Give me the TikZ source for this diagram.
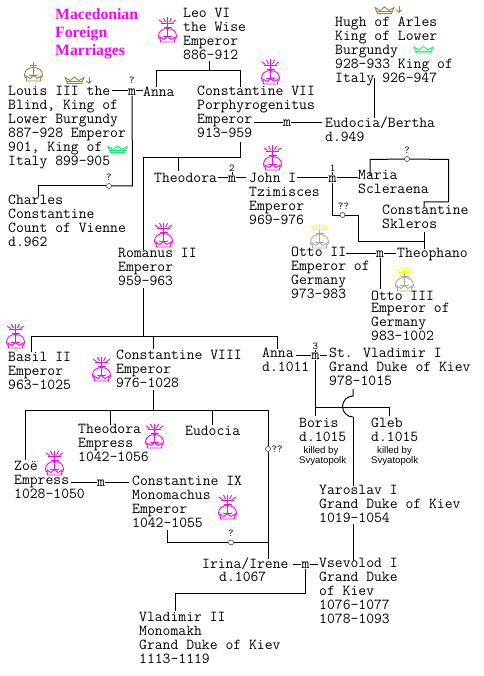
\documentclass[tikz,border=0pt]{standalone}
\usepackage{fontspec}
\usetikzlibrary{arrows.meta}
\newfontfamily\titlefont{Liberation Serif}
\newfontfamily\notefont{Liberation Sans}
\definecolor{imag}{RGB}{255,0,255}
\definecolor{tan1}{RGB}{160,128,64}
\definecolor{igreen}{RGB}{0,255,102}
\definecolor{igrey}{RGB}{176,168,144}
\definecolor{iyellow}{RGB}{255,255,0}
\tikzset{
 tx/.style={anchor=north west,yshift=10pt,inner sep=0pt,align=left,
   font={\ttfamily\fontsize{15.24}{14}\selectfont},
   execute at begin node={\rule{0pt}{10pt}}},
 txn/.style={tx,font={\ttfamily\fontsize{15.24}{12.6}\selectfont}},
 mm/.style={inner sep=0pt,font={\ttfamily\fontsize{15.24}{14}\selectfont}},
 sup/.style={inner sep=0pt,font={\ttfamily\fontsize{10.5}{11}\selectfont}},
 oo/.style={circle,draw,minimum size=5pt,inner sep=0pt},
 ttl/.style={anchor=base west,inner sep=0pt,text=imag,font={\titlefont\bfseries\fontsize{15.7}{17}\selectfont}},
 note/.style={anchor=base west,inner sep=0pt,font={\notefont\fontsize{9.6}{10}\selectfont}},
 ln/.style={line width=1pt,black},
 pics/orbbody/.style={code={
   \draw[line width=0.9pt,#1] (0.5,13) .. controls (0.5,3) and (18.5,3) .. (18.5,13)
      .. controls (18.5,15) and (17.5,16) .. (17,16);
   \draw[line width=0.9pt,#1] (0.5,13) .. controls (0.5,15) and (1.5,16) .. (2,16);
   \draw[line width=0.9pt,#1] (2,14) -- (2.5,19) -- (16.5,19) -- (17,14) -- (13,16.5) -- (9.5,13.5) -- (6,16.5) -- cycle;
   \draw[line width=0.9pt,#1] (5,13) .. controls (7,14) and (12,14) .. (14,13);
 }},
 pics/orbcrown/.style={code={
   \pic at (0,0) {orbbody={#1}};
   \draw[line width=0.9pt,#1] (9.5,0) -- (9.5,13);
   \draw[line width=0.9pt,#1] (6,3.5) -- (13,3.5);
 }},
 pics/impcrown/.style 2 args={code={
   \pic at (0,6) {orbbody={#1}};
   \draw[line width=0.9pt,#1] (9.5,3) -- (9.5,19);
   \draw[line width=0.9pt,#1] (5.5,10) -- (13.5,10);
   \draw[line width=0.9pt,#2] (3,6.5) -- (16,6.5);
   \draw[line width=0.9pt,#2] (9.5,0.5) -- (9.5,6.5);
   \draw[line width=0.9pt,#2] (5.5,1) -- (7.5,5) (13.5,1) -- (11.5,5)
       (1,3) -- (4.5,5.5) (18,3) -- (14.5,5.5);
 }},
 pics/smallcrown/.style={code={
   \draw[line width=0.9pt,#1] (0,0.5) -- (2.5,6.5) -- (16.5,6.5) -- (19,0.5) -- (14,3.5) -- (9.5,0) -- (5,3.5) -- cycle;
   \draw[line width=0.9pt,#1] (2,4.5) -- (17,4.5);
 }},
 pics/downarrow/.style={code={
   \draw[line width=0.9pt,#1,-{Straight Barb[length=2.5pt,width=5.5pt]}] (0,0) -- (0,7);
 }}
}
\begin{document}
\begin{tikzpicture}[x=1pt,y=-1pt]
\fill[white,use as bounding box] (0,0) rectangle (483,676);

% title
\node[ttl] (t1) at (55,20) {Macedonian};
\node[ttl] (t2) at (55,37.5) {Foreign};
\node[ttl] (t3) at (55,55.5) {Marriages};

% people
\node[tx] (leo) at (183,18) {Leo VI\\the Wise\\Emperor\\886-912};
\node[tx] (louis) at (8,96) {Louis III the\\Blind, King of\\Lower Burgundy\\887-928 Emperor\\901, King of\\Italy 899-905};
\node[tx] (anna1) at (143,96) {Anna};
\node[tx] (cvii) at (197,96) {Constantine VII\\Porphyrogenitus\\Emperor\\913-959};
\node[txn] (hugh) at (335,27) {Hugh of Arles\\King of Lower\\Burgundy\\928-933 King of\\Italy 926-947};
\node[tx] (eudb) at (325,127) {Eudocia/Bertha\\d.949};
\node[tx] (charles) at (8,205) {Charles\\Constantine\\Count of Vienne\\d.962};
\node[tx] (theod1) at (154,182) {Theodora};
\node[tx] (john) at (249,183) {John I\\Tzimisces\\Emperor\\969-976};
\node[tx] (maria) at (358,180) {Maria\\Scleraena};
\node[tx] (skl) at (382,215) {Constantine\\Skleros};
\node[tx] (rom) at (118,258) {Romanus II\\Emperor\\959-963};
\node[tx] (ottoii) at (291,257) {Otto II\\Emperor of\\Germany\\973-983};
\node[tx] (theoph) at (397,257) {Theophano};
\node[txn] (ottoiii) at (371,300.5) {Otto III\\Emperor of\\Germany\\983-1002};
\node[tx] (basil) at (8,361.5) {Basil II\\Emperor\\963-1025};
\node[tx] (cviii) at (116,359.5) {Constantine VIII\\Emperor\\976-1028};
\node[tx] (anna2) at (262,358) {Anna\\d.1011};
\node[tx] (vlad) at (329,358) {St. Vladimir I\\Grand Duke of Kiev\\978-1015};
\node[tx] (theod2) at (78,434) {Theodora\\Empress\\1042-1056};
\node[tx] (eud) at (185,435) {Eudocia};
\node[tx] (boris) at (299,427.5) {Boris\\d.1015};
\node[tx] (gleb) at (371,427.5) {Gleb\\d.1015};
\node[note] (bk) at (303.5,453) {killed by};
\node[note] (bs) at (299,463) {Svyatopolk};
\node[note] (gk) at (377,453) {killed by};
\node[note] (gs) at (371,463) {Svyatopolk};
\node[tx] (zoe) at (14,471) {Zoë\\Empress\\1028-1050};
\node[tx] (cix) at (132,486) {Constantine IX\\Monomachus\\Emperor\\1042-1055};
\node[tx] (yar) at (319,495) {Yaroslav I\\Grand Duke of Kiev\\1019-1054};
\node[tx] (irina) at (202,568) {Irina/Irene};
\node[tx] (irdied) at (219,581) {d.1067};
\node[tx] (vsev) at (319,568) {Vsevolod I\\Grand Duke\\of Kiev\\1076-1077\\1078-1093};
\node[tx] (vii) at (139,622) {Vladimir II\\Monomakh\\Grand Duke of Kiev\\1113-1119};

% marriage marks
\node[mm] (m1) at (132,92) {m};
\node[mm] (m2) at (287,123.5) {m};
\node[mm] (m3) at (232,179) {m};
\node[mm] (m4) at (332.5,179) {m};
\node[mm] (m5) at (380,254) {m};
\node[mm] (m6) at (101,483) {m};
\node[mm] (m7) at (315.5,356) {m};
\node[mm] (m8) at (305.5,565) {m};
\node[sup] (q1) at (132,80) {?};
\node[sup] (s2) at (232,168.5) {2};
\node[sup] (s1) at (332.5,168.5) {1};
\node[sup] (s3) at (315.5,346) {3};
\node[oo] (o1) at (109,186) {};
\node[sup] at (109,177) (q2) {?};
\node[oo] (o2) at (407,159) {};
\node[sup] at (407,150) (q3) {?};
\node[oo] (o3) at (342.5,215) {};
\node[sup] at (343.5,206.5) (q4) {??};
\node[oo] (o4) at (268,449) {};
\node[sup,anchor=west] at (271.5,449) (q5) {??};
\node[oo] (o5) at (231,542.5) {};
\node[sup] at (231,533) (q6) {?};

% junction points
\coordinate (a1) at (112,91);   \coordinate (a2) at (143,91);
\coordinate (b1) at (209.5,61); \coordinate (b2) at (209.5,70.5);
\coordinate (b3) at (156,70.5); \coordinate (b4) at (156,87);
\coordinate (b5) at (240,70.5); \coordinate (b6) at (240,87);
\coordinate (c1) at (254,122.5);\coordinate (c2) at (322,122.5);
\coordinate (d1) at (374.5,78); \coordinate (d2) at (374.5,118);
\coordinate (e1) at (132.5,186);\coordinate (e2) at (38.5,186); \coordinate (e3) at (38.5,197);
\coordinate (f1) at (240,142);  \coordinate (f2) at (240,157.5);
\coordinate (f3) at (143.5,157.5);\coordinate (f4) at (143.5,250);
\coordinate (f5) at (178,157.5);\coordinate (f6) at (178,171);
\coordinate (g1) at (218,178);  \coordinate (g2) at (246,178);
\coordinate (g3) at (297,178);  \coordinate (g4) at (358,178);
\coordinate (h1) at (332.5,215);\coordinate (h2) at (358,215);
\coordinate (h3) at (358,241);  \coordinate (h4) at (424,241);
\coordinate (h5) at (424,232);  \coordinate (h6) at (424,249);
\coordinate (i1) at (370,176);  \coordinate (i2) at (370,159.5);
\coordinate (i3) at (448.5,159.5);\coordinate (i4) at (448.5,202);
\coordinate (i5) at (424,202);  \coordinate (i6) at (424,207);
\coordinate (k1) at (346,253);  \coordinate (k2) at (396,253);
\coordinate (k3) at (380,289);
\coordinate (l1) at (143.5,288);\coordinate (l2) at (143.5,336);
\coordinate (l3) at (31.5,336); \coordinate (l4) at (31.5,352);
\coordinate (l5) at (153.5,336);\coordinate (l6) at (153.5,349);
\coordinate (l7) at (277.5,336);\coordinate (l8) at (277.5,349);
\coordinate (n1) at (153.5,390);\coordinate (n2) at (153.5,410.5);
\coordinate (n3) at (25.5,410.5);\coordinate (n4) at (25.5,460);
\coordinate (n5) at (110.5,410.5);\coordinate (n6) at (110.5,425);
\coordinate (n7) at (212.5,410.5);\coordinate (n8) at (212.5,425);
\coordinate (n9) at (268,410.5);\coordinate (n10) at (268,559);
\coordinate (p1) at (71,482);   \coordinate (p2) at (129,482);
\coordinate (r1) at (296,355);  \coordinate (r2) at (327,355);
\coordinate (r3) at (315.5,407);\coordinate (r4) at (315.5,416);
\coordinate (r5) at (389,407);  \coordinate (r6) at (389,416);
\coordinate (u1) at (353,389);  \coordinate (u2) at (353,396);
\coordinate (u3) at (353,417);  \coordinate (u4) at (353,486);
\coordinate (v1) at (167.5,530);\coordinate (v2) at (167.5,542.5);
\coordinate (v3) at (268,542.5);
\coordinate (w1) at (353,524);  \coordinate (w2) at (353,561);
\coordinate (x1) at (293,564);  \coordinate (x2) at (318,564);
\coordinate (x3) at (305.5,593);\coordinate (x4) at (175.5,593);
\coordinate (x5) at (175.5,611);

% connectors
\begin{scope}[ln]
\draw (a1) -- (a1 -| m1.west);
\draw (a2 -| m1.east) -- (a2);
\draw (b1) -- (b2);
\draw (b4) -- (b3) -- (b5) -- (b6);
\draw (c1) -- (c1 -| m2.west);
\draw (c2 -| m2.east) -- (c2);
\draw (d1) -- (d2);
\draw (m1.south) -- (e1) -- (o1.east);
\draw (o1.west) -- (e2) -- (e3);
\draw (f1) -- (f2) -- (f3) -- (f4);
\draw (f5) -- (f6);
\draw (g1) -- (g1 -| m3.west);
\draw (g2 -| m3.east) -- (g2);
\draw (g3) -- (g3 -| m4.west);
\draw (g4 -| m4.east) -- (g4);
\draw (s2.south) -- (m3.north);
\draw (s1.south) -- (m4.north);
\draw (s3.south) -- (m7.north);
\draw (m4.south) -- (h1) -- (o3.west);
\draw (o3.east) -- (h2) -- (h3) -- (h4);
\draw (h5) -- (h6);
\draw (i1) -- (i2) -- (o2.west);
\draw (o2.east) -- (i3) -- (i4) -- (i5) -- (i6);
\draw (k1) -- (k1 -| m5.west);
\draw (k2 -| m5.east) -- (k2);
\draw (m5.south) -- (k3);
\draw (l1) -- (l2);
\draw (l4) -- (l3) -- (l7) -- (l8);
\draw (l5) -- (l6);
\draw (n1) -- (n2);
\draw (n4) -- (n3) -- (n9) -- (o4.north);
\draw (o4.south) -- (n10);
\draw (n5) -- (n6);
\draw (n7) -- (n8);
\draw (p1) -- (p1 -| m6.west);
\draw (p2 -| m6.east) -- (p2);
\draw (r1) -- (r1 -| m7.west);
\draw (r2 -| m7.east) -- (r2);
\draw (m7.south) -- (r4);
\draw (r3) -- (r5) -- (r6);
\draw (u1) -- (u2) arc[start angle=-90,end angle=-270,radius=10.5];
\draw (u3) -- (u4);
\draw (v1) -- (v2) -- (o5.west);
\draw (o5.east) -- (v3);
\draw (w1) -- (w2);
\draw (x1) -- (x1 -| m8.west);
\draw (x2 -| m8.east) -- (x2);
\draw (m8.south) -- (x3) -- (x4) -- (x5);
\end{scope}

% crowns
\pic at (158,17) {impcrown={imag}{imag}};
\pic at (261,59) {impcrown={imag}{imag}};
\pic at (263,145) {impcrown={imag}{imag}};
\pic at (154,222) {impcrown={imag}{imag}};
\pic at (6,323) {impcrown={imag}{imag}};
\pic at (92,356) {impcrown={imag}{imag}};
\pic at (145,423) {impcrown={imag}{imag}};
\pic at (45,450) {impcrown={imag}{imag}};
\pic at (218,494) {impcrown={imag}{imag}};
\pic at (310,223) {impcrown={igrey}{iyellow}};
\pic at (395,266) {impcrown={igrey}{iyellow}};
\pic at (24,62) {orbcrown={tan1}};
\pic at (65,77) {smallcrown={tan1}};
\pic at (89,77) {downarrow={tan1}};
\pic at (108,146) {smallcrown={igreen}};
\pic at (375,7) {smallcrown={tan1}};
\pic at (399,6) {downarrow={tan1}};
\pic at (414,46.5) {smallcrown={igreen}};
\end{tikzpicture}
\end{document}
